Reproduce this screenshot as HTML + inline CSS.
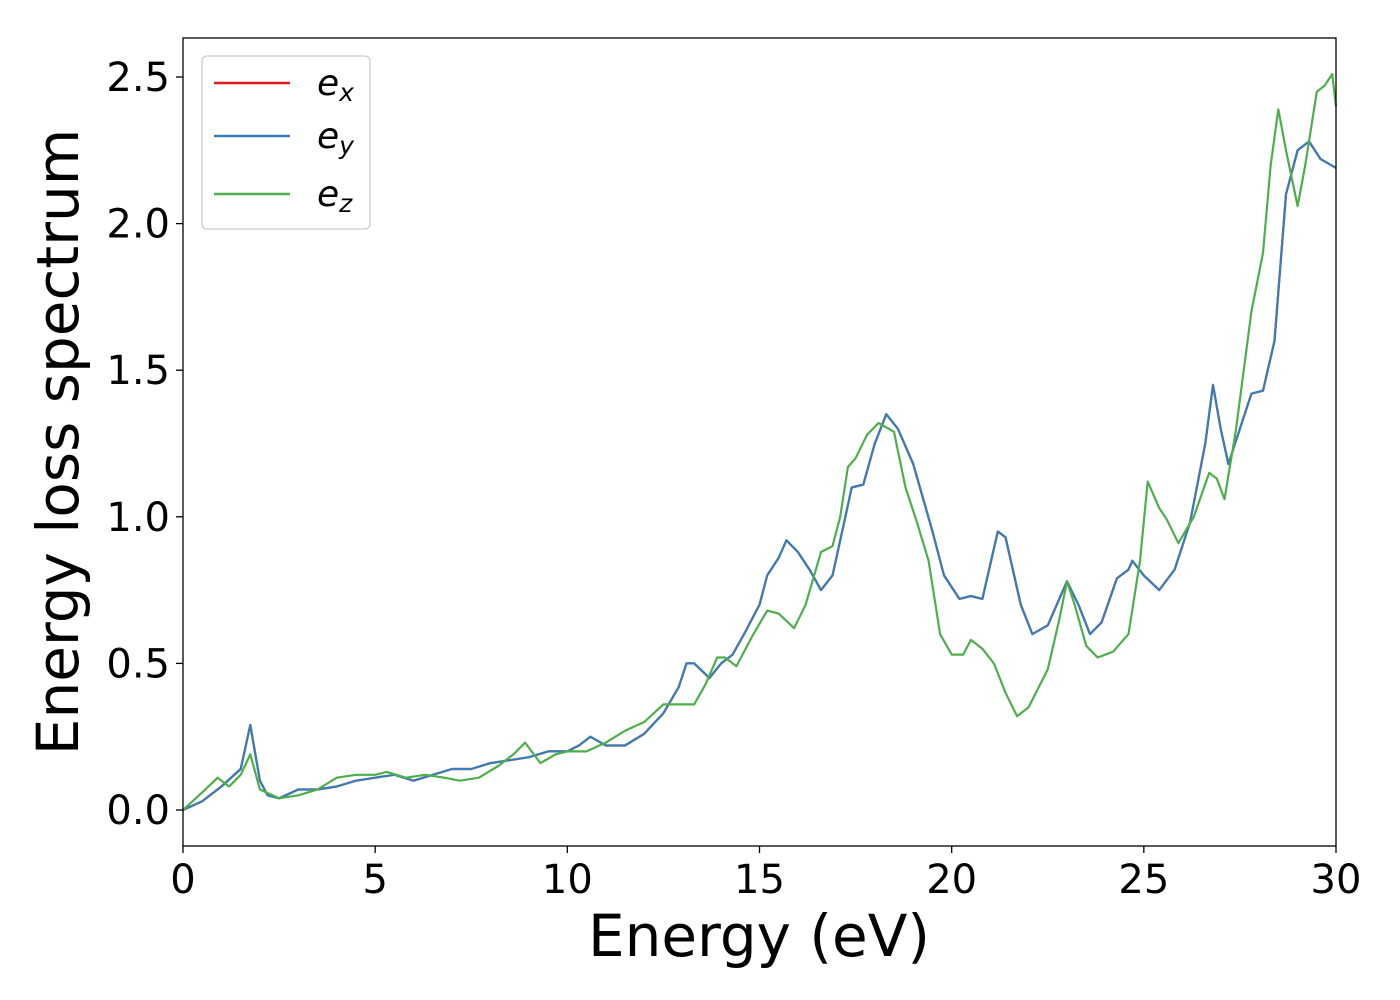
<!DOCTYPE html>
<html><head><meta charset="utf-8"><style>
html,body{margin:0;padding:0;background:#fff;}
svg{display:block;font-family:"DejaVu Sans","Liberation Sans",sans-serif;}
</style></head><body>
<svg id="chart" width="1400" height="1000">
<rect x="183" y="38" width="1153" height="808" fill="#fff"/>
<g id="grid"></g>
<g id="series"></g>
<rect x="183" y="38" width="1153" height="808" fill="none" stroke="#000" stroke-width="1.3"/>
<g id="axes"></g>
<text x="759" y="956" font-size="58" text-anchor="middle">Energy (eV)</text>
<text transform="translate(78,442) rotate(-90)" font-size="58" text-anchor="middle">Energy loss spectrum</text>
<g>
<rect x="202" y="56" width="168" height="173" rx="5" fill="#fff" stroke="#ccc" stroke-width="1.3"/>
<g><line x1="214" y1="83" x2="290" y2="83" stroke="#e41a1c" stroke-width="2.5"/><text x="317" y="95" font-size="36" font-style="italic">e<tspan font-size="25" dy="6">x</tspan></text></g>
<g><line x1="214" y1="136" x2="290" y2="136" stroke="#377eb8" stroke-width="2.5"/><text x="317" y="148" font-size="36" font-style="italic">e<tspan font-size="25" dy="6">y</tspan></text></g>
<g><line x1="214" y1="194" x2="290" y2="194" stroke="#4daf4a" stroke-width="2.5"/><text x="317" y="206" font-size="36" font-style="italic">e<tspan font-size="25" dy="6">z</tspan></text></g>
</g>
</svg>
<script>
const xTicks=[0,5,10,15,20,25,30];
const yTicks=[0,0.5,1.0,1.5,2.0,2.5];
const yTickLabels=["0.0","0.5","1.0","1.5","2.0","2.5"];
const energyXY=[0,0.5,1,1.5,1.75,2,2.2,2.5,3,3.5,4,4.5,5,5.5,6,6.5,7,7.5,8,8.5,9,9.5,10,10.3,10.6,11,11.5,12,12.5,12.9,13.1,13.3,13.7,14,14.3,14.6,15,15.2,15.5,15.7,16,16.3,16.6,16.9,17.2,17.4,17.7,18,18.3,18.6,19,19.5,19.8,20.2,20.5,20.8,21.2,21.4,21.8,22.1,22.5,23,23.3,23.6,23.9,24.3,24.6,24.7,25,25.4,25.8,26.2,26.6,26.8,27,27.2,27.5,27.8,28.1,28.4,28.7,29,29.3,29.6,30];
const lossXY=[0,0.03,0.08,0.14,0.29,0.1,0.05,0.04,0.07,0.07,0.08,0.1,0.11,0.12,0.1,0.12,0.14,0.14,0.16,0.17,0.18,0.2,0.2,0.22,0.25,0.22,0.22,0.26,0.33,0.42,0.5,0.5,0.45,0.5,0.53,0.6,0.7,0.8,0.86,0.92,0.88,0.82,0.75,0.8,0.98,1.1,1.11,1.25,1.35,1.3,1.18,0.95,0.8,0.72,0.73,0.72,0.95,0.93,0.7,0.6,0.63,0.78,0.7,0.6,0.64,0.79,0.82,0.85,0.8,0.75,0.82,0.98,1.25,1.45,1.3,1.18,1.3,1.42,1.43,1.6,2.1,2.25,2.28,2.22,2.19];
const energyZ=[0,0.5,0.9,1.2,1.5,1.75,2,2.5,3,3.5,4,4.5,5,5.3,5.8,6.3,6.8,7.2,7.7,8.2,8.6,8.9,9.3,9.7,10,10.5,11,11.5,12,12.5,13,13.3,13.6,13.9,14.1,14.4,14.8,15.2,15.5,15.9,16.2,16.6,16.9,17.1,17.3,17.5,17.8,18.1,18.5,18.8,19.1,19.4,19.7,20,20.3,20.5,20.8,21.1,21.4,21.7,22,22.5,22.8,23,23.2,23.5,23.8,24.2,24.6,24.9,25.1,25.4,25.6,25.9,26.3,26.7,26.9,27.1,27.4,27.8,28.1,28.3,28.5,28.7,29,29.2,29.5,29.7,29.9,30];
const lossZ=[0,0.06,0.11,0.08,0.12,0.19,0.07,0.04,0.05,0.07,0.11,0.12,0.12,0.13,0.11,0.12,0.11,0.1,0.11,0.15,0.19,0.23,0.16,0.19,0.2,0.2,0.23,0.27,0.3,0.36,0.36,0.36,0.43,0.52,0.52,0.49,0.59,0.68,0.67,0.62,0.7,0.88,0.9,1.0,1.17,1.2,1.28,1.32,1.29,1.1,0.98,0.85,0.6,0.53,0.53,0.58,0.55,0.5,0.4,0.32,0.35,0.48,0.65,0.78,0.7,0.56,0.52,0.54,0.6,0.85,1.12,1.03,0.99,0.91,1.0,1.15,1.13,1.06,1.3,1.7,1.9,2.2,2.39,2.25,2.06,2.2,2.45,2.47,2.51,2.4];
const NS="http://www.w3.org/2000/svg";
const X0=183,X1=1336,Y0=810,YS=293.2;
function sx(v){return X0+(v/30)*(X1-X0);}
function sy(v){return Y0-v*YS;}
function mk(t,a,p){const e=document.createElementNS(NS,t);for(const k in a)e.setAttribute(k,a[k]);p.appendChild(e);return e;}
const axes=document.getElementById('axes');
xTicks.forEach(v=>{
  const l=mk('line',{x1:sx(v),x2:sx(v),y1:846,y2:853,stroke:'#000','stroke-width':1.3},axes);
  
  
  const t=mk('text',{x:sx(v),y:893,'font-size':40,'text-anchor':'middle'},axes);
  t.textContent=v;
  
  
});
yTicks.forEach((v,i)=>{
  const l=mk('line',{x1:176,x2:183,y1:sy(v),y2:sy(v),stroke:'#000','stroke-width':1.3},axes);
  
  
  const t=mk('text',{x:170,y:sy(v)+14,'font-size':40,'text-anchor':'end'},axes);
  t.textContent=yTickLabels[i];
  
  
});
function pts(xs,ys){return xs.map((x,i)=>sx(x).toFixed(1)+','+sy(ys[i]).toFixed(1)).join(' ');}
const sg=document.getElementById('series');
const lx=mk('polyline',{points:pts(energyXY,lossXY),fill:'none',stroke:'#e41a1c','stroke-width':2.2,'stroke-linejoin':'round'},sg);


const ly=mk('polyline',{points:pts(energyXY,lossXY),fill:'none',stroke:'#377eb8','stroke-width':2.2,'stroke-linejoin':'round'},sg);


const lz=mk('polyline',{points:pts(energyZ,lossZ),fill:'none',stroke:'#4daf4a','stroke-width':2.2,'stroke-linejoin':'round'},sg);


</script>
</body></html>
